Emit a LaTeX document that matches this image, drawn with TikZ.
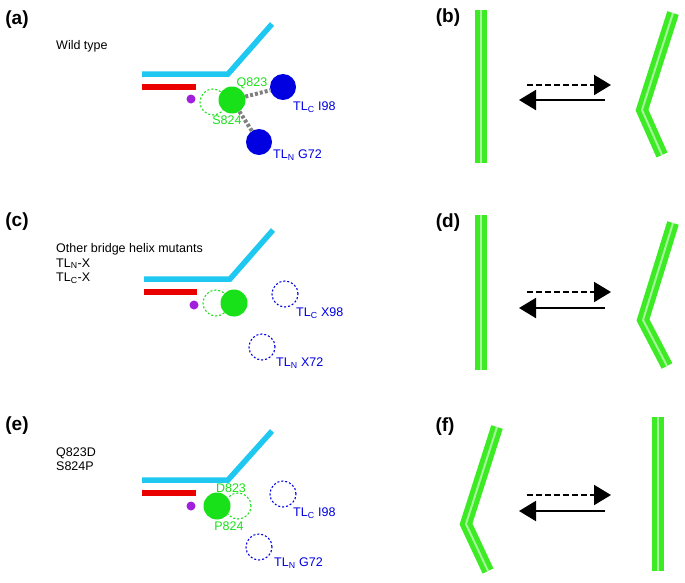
\documentclass[tikz,border=0pt]{standalone}
\usepackage{fontspec}
\setmainfont{Liberation Sans}
\usetikzlibrary{arrows.meta,positioning}
\definecolor{helixgreen}{RGB}{60,235,35}
\definecolor{resgreen}{RGB}{25,225,25}
\definecolor{tlblue}{RGB}{0,0,225}
\definecolor{bhcyan}{RGB}{30,200,240}
\definecolor{dnared}{RGB}{235,0,0}
\definecolor{mgpurple}{RGB}{160,30,220}

\begin{document}
\begin{tikzpicture}[
  x=1pt, y=-1pt,
  font=\fontsize{12.5}{14.5}\selectfont,
  panel/.style={font=\fontsize{19}{22}\selectfont\bfseries, inner sep=0pt},
  note/.style={anchor=west, align=left, inner sep=0pt},
  bridge/.style={draw=bhcyan, line width=5.5pt},
  strand/.style={draw=dnared, line width=5.5pt},
  metal/.style={circle, fill=mgpurple, minimum size=9pt, inner sep=0pt},
  res/.style={circle, fill=resgreen, minimum size=27pt, inner sep=0pt},
  ghost/.style={circle, draw=resgreen, dash pattern=on 2pt off 2pt, line width=1.1pt, minimum size=26pt, inner sep=0pt},
  tl/.style={circle, fill=tlblue, minimum size=26pt, inner sep=0pt},
  tlgone/.style={circle, draw=tlblue, dash pattern=on 2pt off 2pt, line width=1.1pt, minimum size=26pt, inner sep=0pt},
  reslabel/.style={text=resgreen, inner sep=0pt},
  tllabel/.style={text=tlblue, anchor=west, inner sep=0pt},
  hbond/.style={draw=gray, line width=4pt, dash pattern=on 3pt off 2pt},
  helix/.style={draw=helixgreen, line width=5pt, double=white!55!helixgreen, double distance=2pt},
  fwd/.style={-{Triangle[length=17pt, width=20pt]}, line width=2pt, dash pattern=on 6pt off 3pt},
  bwd/.style={-{Triangle[length=17pt, width=20pt]}, line width=2pt}
]
\useasboundingbox (0,0) rectangle (685,582);

% (a) wild type
\node[panel] (la) at (17,20) {(a)};
\node[note] (wt) at (56,46) {Wild type};
\draw[bridge] (142,74) -- (228,74) -- (272,24);
\draw[strand] (142,87) -- (196,87);
\node[metal] (mga) at (191,99) {};
\node[ghost] (sa) at (213,102) {};
\node[res] (qa) at (232,100) {};
\node[tl] (tlca) at (283,87) {};
\node[tl] (tlna) at (259,142) {};
\draw[hbond] (qa) -- (tlca);
\draw[hbond] (qa) -- (tlna);
\node[reslabel] (qla) at (252,83) {Q823};
\node[reslabel] (sla) at (227,120) {S824};
\node[tllabel] (tlcla) at (293,107) {TL\textsubscript{C} I98};
\node[tllabel] (tlnla) at (273,155) {TL\textsubscript{N} G72};

% (b)
\node[panel] (lb) at (448,18) {(b)};
\draw[helix] (481,10) -- (481,163);
\draw[helix] (673,13) -- (642,110) -- (662,155);
\coordinate (b1) at (527,85);  \coordinate (b2) at (611,85);
\coordinate (b3) at (605,100); \coordinate (b4) at (519,100);
\draw[fwd] (b1) -- (b2);
\draw[bwd] (b3) -- (b4);

% (c) other mutants
\node[panel] (lc) at (17,222) {(c)};
\node[note] (om) at (56,263.5) {Other bridge helix mutants\\TL\textsubscript{N}-X\\TL\textsubscript{C}-X};
\draw[bridge] (144,279) -- (230,279) -- (273,230);
\draw[strand] (144,292) -- (197,292);
\node[metal] (mgc) at (194,305) {};
\node[ghost] (sc) at (216,303) {};
\node[res] (qc) at (234,303) {};
\node[tlgone] (tlcc) at (285,294) {};
\node[tlgone] (tlnc) at (262,347) {};
\node[tllabel] (tlclc) at (296,313) {TL\textsubscript{C} X98};
\node[tllabel] (tlnlc) at (276,363) {TL\textsubscript{N} X72};

% (d)
\node[panel] (ld) at (448,223) {(d)};
\draw[helix] (481,215) -- (481,370);
\draw[helix] (673,223) -- (643,320) -- (667,366);
\coordinate (d1) at (527,292); \coordinate (d2) at (611,292);
\coordinate (d3) at (605,308); \coordinate (d4) at (519,308);
\draw[fwd] (d1) -- (d2);
\draw[bwd] (d3) -- (d4);

% (e) Q823D / S824P
\node[panel] (le) at (17,426) {(e)};
\node[note] (dp) at (56,459) {Q823D\\S824P};
\draw[bridge] (142,480) -- (228,480) -- (272,431);
\draw[strand] (142,493) -- (196,493);
\node[metal] (mge) at (191,506) {};
\node[ghost] (pe) at (238,506) {};
\node[res] (de) at (217,506) {};
\node[tlgone] (tlce) at (283,494) {};
\node[tlgone] (tlne) at (259,547) {};
\node[reslabel] (dle) at (231,488) {D823};
\node[reslabel] (ple) at (229,526) {P824};
\node[tllabel] (tlcle) at (293,513) {TL\textsubscript{C} I98};
\node[tllabel] (tlnle) at (274,563) {TL\textsubscript{N} G72};

% (f)
\node[panel] (lf) at (445,427) {(f)};
\draw[helix] (497,427) -- (466,524) -- (488,571);
\draw[helix] (658,417) -- (658,571);
\coordinate (f1) at (527,495); \coordinate (f2) at (611,495);
\coordinate (f3) at (605,511); \coordinate (f4) at (519,511);
\draw[fwd] (f1) -- (f2);
\draw[bwd] (f3) -- (f4);
\end{tikzpicture}
\end{document}
